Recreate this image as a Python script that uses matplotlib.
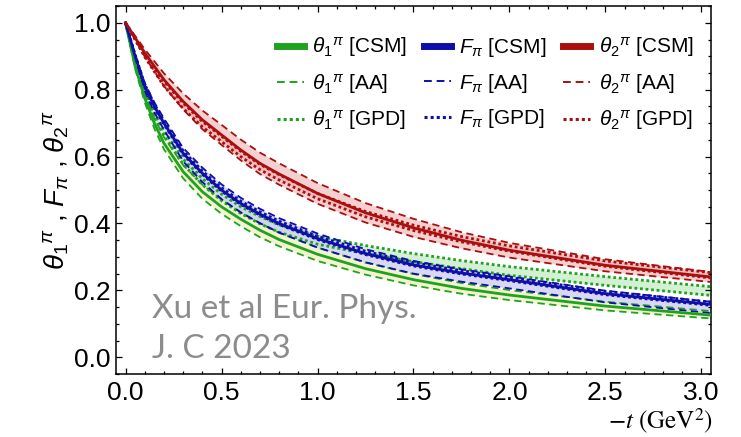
import matplotlib
matplotlib.use('Agg')
import matplotlib.pyplot as plt
from matplotlib.lines import Line2D
from matplotlib.ticker import MultipleLocator

plt.rcParams['font.family'] = ['Liberation Sans', 'DejaVu Sans']
plt.rcParams['mathtext.fontset'] = 'custom'
plt.rcParams['mathtext.rm'] = 'Liberation Sans'
plt.rcParams['mathtext.it'] = 'Liberation Sans:italic'

# momentum transfer -t (GeV^2)
t = [0.0, 0.05, 0.1, 0.15, 0.2, 0.3, 0.4, 0.5, 0.6, 0.7, 0.8, 1.0, 1.25, 1.5, 1.75, 2.0, 2.5, 3.05]

# theta_1 (green)
th1_csm = [1.0, 0.87, 0.775, 0.70, 0.64, 0.555, 0.495, 0.45, 0.413, 0.38, 0.352, 0.308, 0.265, 0.232, 0.206, 0.186, 0.153, 0.126]
th1_aa_hi = [1.0, 0.878, 0.788, 0.716, 0.658, 0.575, 0.516, 0.471, 0.434, 0.401, 0.372, 0.328, 0.283, 0.249, 0.222, 0.201, 0.166, 0.138]
th1_aa_lo = [1.0, 0.862, 0.762, 0.684, 0.622, 0.535, 0.474, 0.429, 0.392, 0.359, 0.332, 0.288, 0.247, 0.215, 0.19, 0.171, 0.14, 0.116]
th1_gpd_hi = [1.0, 0.883, 0.80, 0.731, 0.677, 0.593, 0.534, 0.488, 0.45, 0.421, 0.396, 0.362, 0.334, 0.31, 0.289, 0.271, 0.241, 0.211]
th1_gpd_lo = [1.0, 0.877, 0.79, 0.719, 0.663, 0.577, 0.516, 0.468, 0.43, 0.399, 0.374, 0.338, 0.31, 0.286, 0.265, 0.245, 0.215, 0.185]

# F_pi (blue)
fpi_csm = [1.0, 0.90, 0.81, 0.75, 0.70, 0.61, 0.55, 0.50, 0.46, 0.428, 0.40, 0.355, 0.31, 0.276, 0.252, 0.232, 0.19, 0.158]
fpi_aa_hi = [1.0, 0.906, 0.82, 0.762, 0.714, 0.626, 0.567, 0.517, 0.477, 0.444, 0.416, 0.37, 0.323, 0.288, 0.263, 0.242, 0.199, 0.166]
fpi_aa_lo = [1.0, 0.892, 0.796, 0.732, 0.68, 0.586, 0.524, 0.473, 0.433, 0.401, 0.373, 0.328, 0.284, 0.25, 0.226, 0.206, 0.164, 0.132]
fpi_gpd_hi = [1.0, 0.904, 0.816, 0.757, 0.707, 0.617, 0.557, 0.507, 0.467, 0.435, 0.407, 0.362, 0.317, 0.283, 0.259, 0.239, 0.197, 0.165]
fpi_gpd_lo = [1.0, 0.900, 0.808, 0.747, 0.697, 0.607, 0.547, 0.497, 0.457, 0.425, 0.397, 0.352, 0.307, 0.273, 0.249, 0.229, 0.187, 0.155]

# theta_2 (red)
th2_csm = [1.0, 0.955, 0.91, 0.87, 0.83, 0.765, 0.71, 0.665, 0.62, 0.58, 0.548, 0.49, 0.432, 0.387, 0.35, 0.32, 0.275, 0.24]
th2_aa_hi = [1.0, 0.961, 0.921, 0.885, 0.849, 0.789, 0.738, 0.695, 0.651, 0.612, 0.58, 0.521, 0.461, 0.414, 0.374, 0.342, 0.293, 0.255]
th2_aa_lo = [1.0, 0.949, 0.899, 0.855, 0.811, 0.741, 0.682, 0.635, 0.589, 0.548, 0.516, 0.459, 0.403, 0.36, 0.326, 0.298, 0.257, 0.225]
th2_gpd_hi = [1.0, 0.955, 0.908, 0.866, 0.825, 0.76, 0.705, 0.661, 0.616, 0.577, 0.546, 0.49, 0.436, 0.395, 0.361, 0.333, 0.288, 0.253]
th2_gpd_lo = [1.0, 0.949, 0.898, 0.854, 0.811, 0.744, 0.689, 0.645, 0.60, 0.561, 0.53, 0.474, 0.42, 0.379, 0.345, 0.317, 0.272, 0.237]

GREEN = '#1fa31f'
BLUE = '#0e0eaa'
RED = '#ab0e0e'

series = [
    (GREEN, th1_csm, th1_aa_hi, th1_aa_lo, th1_gpd_hi, th1_gpd_lo, '#f3efc6', '#c9edc9'),
    (BLUE, fpi_csm, fpi_aa_hi, fpi_aa_lo, fpi_gpd_hi, fpi_gpd_lo, '#cfcff3', '#cfcff3'),
    (RED, th2_csm, th2_aa_hi, th2_aa_lo, th2_gpd_hi, th2_gpd_lo, '#f1c6c6', '#eeb9b9'),
]

DASH = (0, (4, 2.5))
DOT = (0, (1, 1))

fig = plt.figure(figsize=(7.41, 4.37), dpi=100)
ax = fig.add_axes([0.1565, 0.1442, 0.803, 0.8418])

for color, csm, aa_hi, aa_lo, gpd_hi, gpd_lo, aa_fill, gpd_fill in series:
    ax.fill_between(t, aa_lo, aa_hi, color=aa_fill, alpha=0.8, lw=0, zorder=1)
    ax.fill_between(t, gpd_lo, gpd_hi, color=gpd_fill, alpha=0.8, lw=0, zorder=1)

for color, csm, aa_hi, aa_lo, gpd_hi, gpd_lo, aa_fill, gpd_fill in series:
    for y in (aa_hi, aa_lo):
        ax.plot(t, y, color=color, lw=1.3, linestyle=DASH, zorder=3)
    for y in (gpd_hi, gpd_lo):
        ax.plot(t, y, color=color, lw=2.0, linestyle=DOT, zorder=3)
    ax.plot(t, csm, color=color, lw=2.0, zorder=4)

ax.set_xlim(-0.05, 3.05)
ax.set_ylim(-0.05, 1.05)
ax.xaxis.set_major_locator(MultipleLocator(0.5))
ax.xaxis.set_minor_locator(MultipleLocator(0.1))
ax.yaxis.set_major_locator(MultipleLocator(0.2))
ax.yaxis.set_minor_locator(MultipleLocator(0.05))
ax.tick_params(which='both', direction='in', top=True, right=True, labelsize=19, width=0.9)
ax.tick_params(which='major', length=4.5)
ax.tick_params(which='minor', length=2.5)
ax.tick_params(axis='x', pad=5)
ax.tick_params(axis='y', pad=4)
ax.xaxis.set_major_formatter(plt.FuncFormatter(lambda v, p: f'{v:.1f}'))
ax.yaxis.set_major_formatter(plt.FuncFormatter(lambda v, p: f'{v:.1f}'))
for s in ax.spines.values():
    s.set_linewidth(1.1)

ax.set_ylabel(r'$\theta_1{}^{\pi}$ , $F_\pi$ , $\theta_2{}^{\pi}$', fontsize=20, labelpad=2)

fig.text(0.962, 0.018, r'$-t\ (\mathrm{GeV}^2)$', math_fontfamily='stix',
         fontsize=18, ha='right', va='baseline')

fig.text(0.205, 0.272, 'Xu et al Eur. Phys.', family='Lato', fontsize=24,
         color='#8c8c8c', va='baseline')
fig.text(0.205, 0.181, 'J. C 2023', family='Lato', fontsize=24,
         color='#8c8c8c', va='baseline')

handles = []
labels = []
names = [r'$\theta_1{}^{\pi}$', r'$F_\pi$', r'$\theta_2{}^{\pi}$']
for (color, *_), name in zip(series, names):
    handles += [Line2D([], [], color=color, lw=5),
                Line2D([], [], color=color, lw=1.4, linestyle=DASH),
                Line2D([], [], color=color, lw=2.2, linestyle=DOT)]
    labels += [name + ' [CSM]', name + ' [AA]', name + ' [GPD]']

ax.legend(handles, labels, ncol=3, loc='upper right', bbox_to_anchor=(0.995, 0.96),
          frameon=False, fontsize=15, handlelength=1.3, handletextpad=0.4,
          columnspacing=0.8, labelspacing=0.6, borderpad=0.2)

fig.savefig('out.png', dpi=100)
